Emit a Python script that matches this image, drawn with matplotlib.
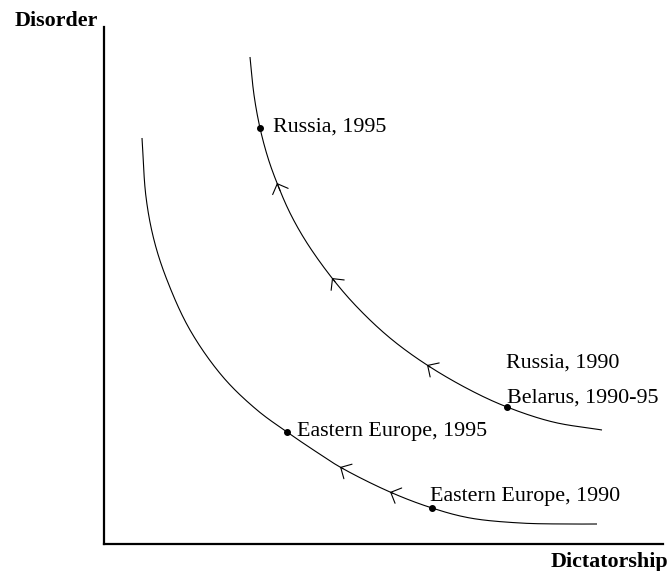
import numpy as np
import matplotlib
matplotlib.use("Agg")
import matplotlib.pyplot as plt

# Curves (data units)
russia_x = [146, 150, 156, 164, 173, 186, 203, 228, 253, 286, 323, 366, 403, 449, 498]
russia_y = [487, 449, 416, 386, 361, 331, 301, 266, 237, 206, 179, 154, 137, 122, 114]
europe_x = [38, 42, 50, 63, 86, 119, 153, 183, 211, 236, 286, 328, 366, 416, 459, 493]
europe_y = [406, 347, 304, 264, 214, 167, 134, 112, 93, 77, 52, 36, 26, 21, 20, 20]

# Marked points
point_x = [156, 403, 183, 328]
point_y = [416, 137, 112, 36]

# Arrow positions (x on each curve)
russia_arrows_x = [173, 228, 323]
europe_arrows_x = [236, 286]

# Labels
labels = ["Russia, 1995", "Russia, 1990", "Belarus, 1990-95",
          "Eastern Europe, 1995", "Eastern Europe, 1990"]
label_x = [169, 402, 403, 193, 326]
label_y = [412, 176, 141, 108, 43]

xlabel = "Dictatorship"
ylabel = "Disorder"


def smooth(xs, ys, n=20):
    """Centripetal Catmull-Rom rendering through the given points."""
    p = np.column_stack([xs, ys]).astype(float)
    p = np.vstack([2 * p[0] - p[1], p, 2 * p[-1] - p[-2]])
    out = []
    for i in range(1, len(p) - 2):
        p0, p1, p2, p3 = p[i - 1], p[i], p[i + 1], p[i + 2]
        t0 = 0.0
        t1 = t0 + np.linalg.norm(p1 - p0) ** 0.5
        t2 = t1 + np.linalg.norm(p2 - p1) ** 0.5
        t3 = t2 + np.linalg.norm(p3 - p2) ** 0.5
        t = np.linspace(t1, t2, n, endpoint=False)[:, None]
        a1 = (t1 - t) / (t1 - t0) * p0 + (t - t0) / (t1 - t0) * p1
        a2 = (t2 - t) / (t2 - t1) * p1 + (t - t1) / (t2 - t1) * p2
        a3 = (t3 - t) / (t3 - t2) * p2 + (t - t2) / (t3 - t2) * p3
        b1 = (t2 - t) / (t2 - t0) * a1 + (t - t0) / (t2 - t0) * a2
        b2 = (t3 - t) / (t3 - t1) * a2 + (t - t1) / (t3 - t1) * a3
        c = (t2 - t) / (t2 - t1) * b1 + (t - t1) / (t2 - t1) * b2
        out.append(c)
    out.append(p[-2][None, :])
    out = np.vstack(out)
    return out[:, 0], out[:, 1]


W, H = 669, 571
fig = plt.figure(figsize=(W / 100, H / 100), dpi=100)
ax = fig.add_axes([104 / W, (H - 544) / H, (663 - 104) / W, (544 - 27) / H])
ax.set_xlim(0, 559)
ax.set_ylim(0, 517)
for s in ["top", "right"]:
    ax.spines[s].set_visible(False)
for s in ["left", "bottom"]:
    ax.spines[s].set_linewidth(1.6)
ax.set_xticks([])
ax.set_yticks([])

rx, ry = smooth(russia_x, russia_y)
ex, ey = smooth(europe_x, europe_y)
ax.plot(rx, ry, color="black", lw=0.8, solid_capstyle="butt")
ax.plot(ex, ey, color="black", lw=0.8, solid_capstyle="butt")
ax.plot(point_x, point_y, "o", color="black", markersize=4)


def arrows(cx, cy, ax_list):
    order = np.argsort(cx)
    sx, sy = np.asarray(cx)[order], np.asarray(cy)[order]
    for xa in ax_list:
        ya = np.interp(xa, sx, sy)
        xt = xa + 3
        yt = np.interp(xt, sx, sy)
        ax.annotate("", xy=(xa, ya), xytext=(xt, yt),
                    arrowprops=dict(arrowstyle="->,head_length=0.5,head_width=0.5",
                                    lw=0.8, color="black", mutation_scale=12,
                                    shrinkA=0, shrinkB=0))


arrows(rx, ry, russia_arrows_x)
arrows(ex, ey, europe_arrows_x)

serif = ["Liberation Serif", "DejaVu Serif"]
for t, x, y in zip(labels, label_x, label_y):
    ax.text(x, y, t, fontsize=15.8, family=serif, ha="left", va="baseline")

fig.text(15 / W, (H - 26) / H, ylabel, fontsize=15.8, family=serif,
         fontweight="bold", ha="left", va="baseline")
fig.text(551 / W, (H - 567) / H, xlabel, fontsize=15.8, family=serif,
         fontweight="bold", ha="left", va="baseline")

fig.savefig("out.png", dpi=100)
